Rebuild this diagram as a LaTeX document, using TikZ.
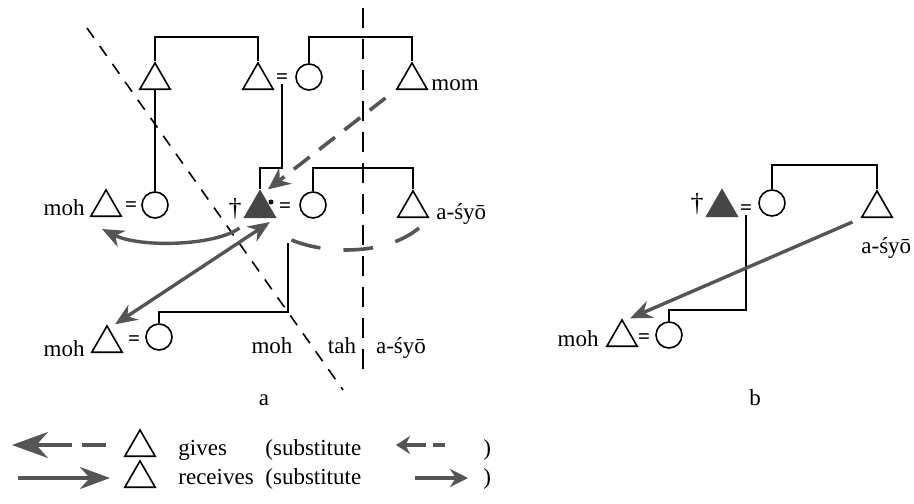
\documentclass[tikz,border=0pt]{standalone}
\usepackage{fontspec}
\setmainfont{Liberation Serif}
\usetikzlibrary{arrows.meta,shapes.geometric}
\definecolor{kinArrow}{RGB}{85,85,85}
\definecolor{kinEgo}{RGB}{70,70,70}

\begin{document}
\begin{tikzpicture}[
  x=0.5pt, y=-0.5pt,
  font=\fontsize{11.5}{13}\selectfont,
  tri/.style={regular polygon, regular polygon sides=3, draw, line width=0.8pt, minimum size=17.5pt, inner sep=0pt, anchor=south},
  egotri/.style={tri, fill=kinEgo, draw=kinEgo},
  fem/.style={circle, draw, line width=0.8pt, minimum size=13pt, inner sep=0pt},
  eq/.style={font=\fontsize{10.5}{10.5}\selectfont\bfseries, inner sep=0pt},
  kin/.style={line width=0.75pt},
  lbl/.style={inner sep=0pt},
  give/.style={-{Stealth[length=11pt,width=10pt]}, line width=1.8pt, draw=kinArrow, dash pattern=on 10pt off 6pt},
  givecurve/.style={line width=1.8pt, draw=kinArrow, dash pattern=on 15pt off 11.5pt},
  recv/.style={-{Stealth[length=11pt,width=9pt]}, line width=1.7pt, draw=kinArrow},
  diag/.style={line width=0.8pt, dash pattern=on 6pt off 5pt},
  divide/.style={line width=1.4pt, dash pattern=on 10pt off 5.5pt}
]
\useasboundingbox (0,0) rectangle (914,503);

% Diagram a: upper generation
\node[tri] (t1) at (155,90) {};
\node[tri] (t2) at (258,90) {};
\node[eq] (e2) at (282,79) {=};
\node[fem] (c2) at (309,77) {};
\node[tri] (t3) at (412,90) {};
\node[lbl, anchor=base west] (lmom) at (431,90) {mom};
\coordinate (s1) at (206,37);
\coordinate (s2) at (360,37);
\draw[kin] (t1.north) |- (s1) -| (t2.north);
\draw[kin] (c2.north) |- (s2) -| (t3.north);

% Diagram a: ego's generation
\node[tri] (t4) at (106,217) {};
\node[lbl, anchor=base east] (lmoh1) at (85,215) {moh};
\node[eq] (e4) at (131,207) {=};
\node[fem] (c4) at (155,205) {};
\draw[kin] (t1.south) -- (c4.north);
\node[egotri] (t5) at (260,218) {};
\node[lbl, font=\fontsize{13}{13}\selectfont] (dag5) at (235,209) {†};
\node[circle, fill, inner sep=0pt, minimum size=2.5pt] (dot5) at (271,202) {};
\node[eq] (e5) at (285,208) {=};
\node[fem] (c5) at (313,205) {};
\coordinate (k1) at (270,168);
\draw[kin] (e2.south) |- (k1) -| (t5.north);
\node[tri] (t6) at (413,218) {};
\node[lbl, anchor=base west] (lasyo1) at (436,219) {a-śyō};
\coordinate (s3) at (362,168);
\draw[kin] (c5.north) |- (s3) -| (t6.north);

% Diagram a: lower generation
\node[tri] (t7) at (107,353) {};
\node[lbl, anchor=base east] (lmoh2) at (85,356) {moh};
\node[eq] (e7) at (134,341) {=};
\node[fem] (c7) at (159,337) {};
\coordinate (d5) at (288,243);
\coordinate (k2) at (220,312);
\draw[kin] (d5) |- (k2) -| (c7.north);
\node[lbl, anchor=base] (lmoh3) at (272,353) {moh};
\node[lbl, anchor=base] (ltah) at (342,353) {tah};
\node[lbl, anchor=base] (lasyo2) at (401,353) {a-śyō};
\node[lbl, anchor=base] (capa) at (264,405) {a};

% Dividing lines
\coordinate (v1) at (363,8);
\coordinate (v2) at (363,378);
\draw[divide] (v1) -- (v2);
\coordinate (g1) at (87,28);
\coordinate (g2) at (343,390);
\draw[diag] (g1) -- (g2);

% Transfers in a
\draw[give] ([shift={(-5pt,-4pt)}]t3.corner 2) -- ([xshift=4pt]t5.north);
\draw[recv] ([shift={(-2pt,-5pt)}]t5.corner 2) .. controls (215,246) and (140,248) .. ([shift={(-2pt,-6pt)}]t4.south);
\draw[recv, {Stealth[length=11pt,width=9pt]}-{Stealth[length=11pt,width=9pt]}] ([shift={(5pt,-2pt)}]t5.south) -- ([xshift=4pt]t7.north);
\draw[givecurve] ([shift={(7.5pt,-11pt)}]t5.corner 3) .. controls (325,254) and (385,256) .. ([shift={(3pt,-5pt)}]t6.south);

% Diagram b
\node[egotri] (t8) at (722,217) {};
\node[lbl, font=\fontsize{13}{13}\selectfont] (dag8) at (697,204) {†};
\node[eq] (e8) at (746,210) {=};
\node[fem] (c8) at (772,203) {};
\node[tri] (t9) at (877,218) {};
\node[lbl, anchor=base west] (lasyo3) at (861,253) {a-śyō};
\coordinate (s4) at (824,165);
\draw[kin] (c8.north) |- (s4) -| (t9.north);
\node[tri] (t10) at (622,347) {};
\node[lbl, anchor=base east] (lmoh4) at (599,346) {moh};
\node[eq] (e10) at (644,339) {=};
\node[fem] (c10) at (669,335) {};
\coordinate (k3) at (700,310);
\draw[kin] (e8.south) |- (k3) -| (c10.north);
\draw[recv] ([shift={(-4pt,-2pt)}]t9.corner 2) -- ([xshift=4pt]t10.north);
\node[lbl, anchor=base] (capb) at (755,405) {b};

% Legend
\node[tri] (lt1) at (140,457) {};
\node[tri] (lt2) at (140,488) {};
\node[lbl, anchor=base west] (lgives) at (178,455) {gives};
\node[lbl, anchor=base west] (lsub1) at (265,455) {(substitute};
\node[lbl, anchor=base west] (lpar1) at (483,455) {)};
\node[lbl, anchor=base west] (lrecv) at (178,484) {receives};
\node[lbl, anchor=base west] (lsub2) at (265,484) {(substitute};
\node[lbl, anchor=base west] (lpar2) at (483,484) {)};
\coordinate (lg1a) at (106,445);
\coordinate (lg1b) at (12,445);
\draw[give, -{Stealth[length=18pt,width=13pt]}, line width=2.2pt, dash pattern=on 12pt off 5pt on 60pt off 5pt] (lg1a) -- (lg1b);
\coordinate (lg2a) at (18,478);
\coordinate (lg2b) at (110,478);
\draw[recv, -{Stealth[length=15pt,width=11pt]}, line width=2.2pt] (lg2a) -- (lg2b);
\coordinate (lg3a) at (445,445);
\coordinate (lg3b) at (396,445);
\draw[give, -{Stealth[length=7pt,width=9pt]}, line width=1.6pt, dash pattern=on 6pt off 3.5pt on 20pt off 3pt] (lg3a) -- (lg3b);
\coordinate (lg4a) at (415,478);
\coordinate (lg4b) at (468,478);
\draw[recv, -{Stealth[length=9pt,width=9pt]}, line width=1.6pt] (lg4a) -- (lg4b);

\end{tikzpicture}
\end{document}
